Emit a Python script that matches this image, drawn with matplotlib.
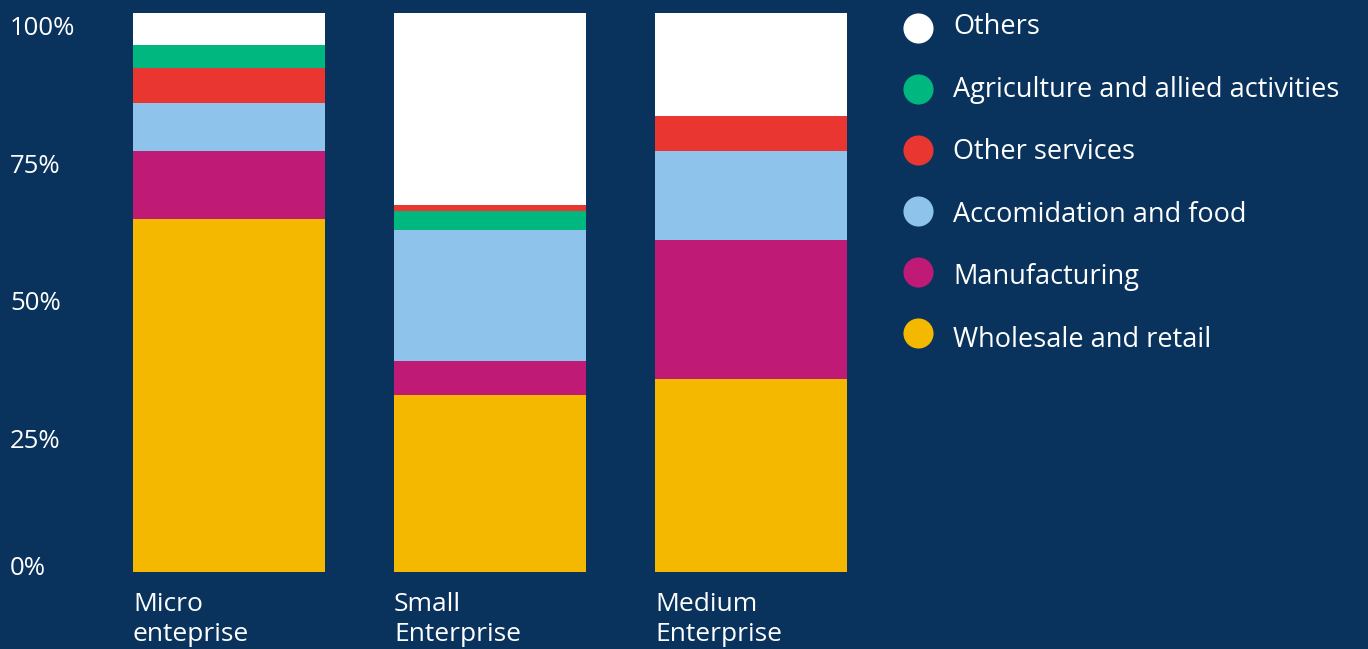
import numpy as np
import matplotlib
matplotlib.use("Agg")
import matplotlib.pyplot as plt

plt.rcParams['font.family'] = ['Open Sans', 'DejaVu Sans']

categories = ["Micro\nenteprise", "Small\nEnterprise", "Medium\nEnterprise"]
sectors = ["Wholesale and retail", "Manufacturing", "Accomidation and food",
           "Other services", "Agriculture and allied activities", "Others"]

# share of each sector, in %
wholesale = [63.1, 31.7, 34.5]
manufacturing = [12.2, 6.1, 24.9]
accomodation = [8.6, 23.3, 15.9]
other_services = [6.3, 1.1, 6.3]
agriculture = [4.1, 3.4, 0.0]
others = [5.7, 34.4, 18.4]

series = [wholesale, manufacturing, accomodation, other_services, agriculture, others]
colors = ["#f5b800", "#be1a76", "#8ec4eb", "#e93631", "#00b77f", "#ffffff"]
# small enterprise bar has other services stacked above agriculture
stack_order = [[0, 1, 2, 3, 4, 5], [0, 1, 2, 4, 3, 5], [0, 1, 2, 3, 4, 5]]
yticks = [0, 25, 50, 75, 100]

bg = "#09335c"
W, H = 1368, 649

fig = plt.figure(figsize=(W / 100, H / 100), dpi=100, facecolor=bg)
ax = fig.add_axes([133 / W, (H - 572) / H, 714 / W, 559 / H])
ax.set_facecolor(bg)

for i in range(len(categories)):
    b = 0
    for k in stack_order[i]:
        v = series[k][i]
        ax.bar(i, v, width=0.736, bottom=b, color=colors[k], linewidth=0)
        b += v

ax.set_xlim(-0.368, 2.368)
ax.set_ylim(0, 100)
for s in ax.spines.values():
    s.set_visible(False)
ax.set_xticks([])
ax.set_yticks([])

# overlay in pixel coordinates for the free text and legend
lax = fig.add_axes([0, 0, 1, 1], facecolor="none")
lax.set_xlim(0, W)
lax.set_ylim(H, 0)
lax.axis("off")

# y labels sit a bit below their gridline; 0% is pulled up to the bar base
for v in yticks:
    base = min(35 + (100 - v) / 25 * 137.7, 575)
    lax.text(10, base, f"{v}%", color="white", fontsize=18.5,
             ha="left", va="baseline")

# category labels under each bar, left aligned at bar edge
for i, lab in enumerate(categories):
    xpx = 133 + i * 261
    for j, line in enumerate(lab.split("\n")):
        lax.text(xpx, 611 + j * 30, line, color="white", fontsize=19,
                 ha="left", va="baseline")

# legend on the right
for k, (name, c) in enumerate(zip(sectors[::-1], colors[::-1])):
    lax.scatter([918], [28 + k * 61], s=470, color=c, linewidth=0)
    lax.text(953, 34 + k * 62.6, name, color="white", fontsize=19.5,
             ha="left", va="baseline")

fig.savefig("out.png", dpi=100, facecolor=bg)
